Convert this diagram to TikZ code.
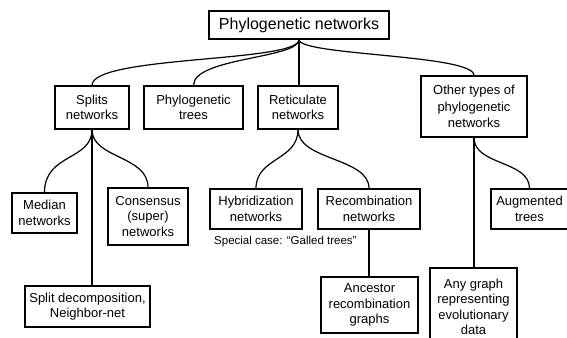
\documentclass[tikz,border=0pt]{standalone}
\usepackage{fontspec}
\setmainfont{Liberation Sans}
\begin{document}
\begin{tikzpicture}[x=1pt,y=-1pt,
  box/.style={draw, line width=1.2pt, inner sep=0pt, align=center,
    font=\fontsize{13}{15.5}\selectfont},
  link/.style={line width=1.2pt}]
\clip (0,0) rectangle (567,337);

% top level
\node[box, font=\fontsize{16}{18}\selectfont, minimum width=180pt, minimum height=28pt]
  (root) at (299,25) {Phylogenetic networks};

% second level
\node[box, minimum width=74pt, minimum height=43pt] (splits) at (92,107.5) {Splits\\networks};
\node[box, minimum width=99pt, minimum height=43pt] (trees) at (193.5,107.5) {Phylogenetic\\trees};
\node[box, minimum width=80pt, minimum height=43pt] (retic) at (298,107.5) {Reticulate\\networks};
\node[box, font=\fontsize{13}{16.5}\selectfont, minimum width=106pt, minimum height=61pt]
  (other) at (474,106.5) {Other types of\\phylogenetic\\networks};

% third level
\node[box, minimum width=65pt, minimum height=40pt] (median) at (44.5,213) {Median\\networks};
\node[box, minimum width=80pt, minimum height=57pt] (consensus) at (148,216.5) {Consensus\\(super)\\networks};
\node[box, minimum width=125pt, minimum height=41pt] (splitdec) at (87.5,306.5) {Split decomposition,\\Neighbor-net};
\node[box, minimum width=92pt, minimum height=40pt] (hybrid) at (256,209) {Hybridization\\networks};
\node[box, minimum width=102pt, minimum height=40pt] (recomb) at (369,209) {Recombination\\networks};
\node[box, minimum width=97pt, minimum height=56pt] (ancestor) at (369.5,305) {Ancestor\\recombination\\graphs};
\node[box, minimum width=87pt, minimum height=78pt] (anygraph) at (473.5,307) {Any graph\\representing\\evolutionary\\data};
\node[box, minimum width=77pt, minimum height=40pt] (augmented) at (529.5,209) {Augmented\\trees};

\node[anchor=west, inner sep=0pt, font=\fontsize{11.5}{13}\selectfont]
  (special) at (214,242) {Special case: “Galled trees”};

% connectors
\draw[link] (root.south) .. controls +(0,23) and +(0,-30) .. (splits.north);
\draw[link] (root.south) .. controls +(0,19) and +(0,-28) .. (trees.north);
\draw[link] (root.south) -- (root.south |- retic.north);
\draw[link] (root.south) .. controls +(0,16) and +(0,-21) .. (other.north);

\draw[link] (splits.south) .. controls +(0,31) and +(0,-39) .. (median.north);
\draw[link] (splits.south) .. controls +(0,29) and +(0,-32) .. (consensus.north);
\draw[link] (splits.south) -- (splits.south |- splitdec.north);

\draw[link] (retic.south) .. controls +(0,31) and +(0,-31) .. (hybrid.north);
\draw[link] (retic.south) .. controls +(0,31) and +(0,-31) .. (recomb.north);
\draw[link] (recomb.south) -- (recomb.south |- ancestor.north);

\draw[link] (other.south) -- (other.south |- anygraph.north);
\draw[link] (other.south) .. controls +(0,28) and +(0,-28) .. (augmented.north);
\end{tikzpicture}
\end{document}
